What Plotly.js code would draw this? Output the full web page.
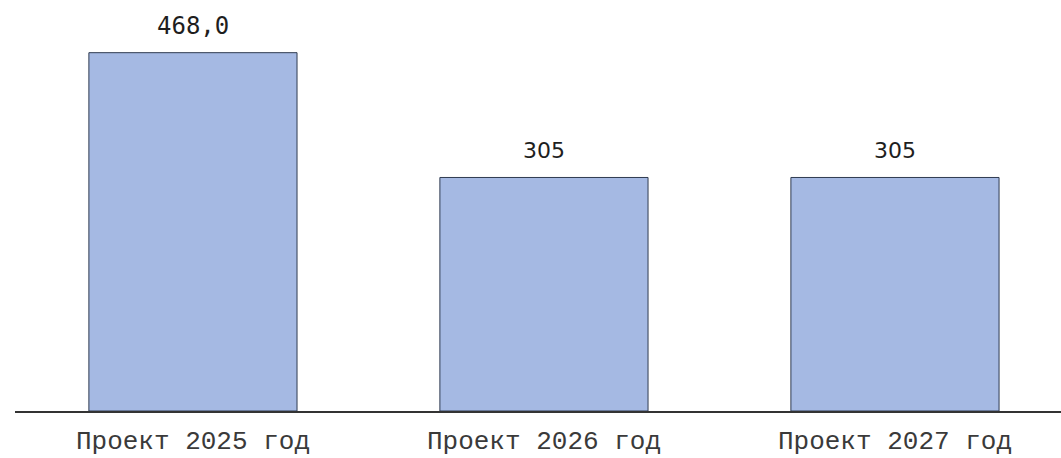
<!DOCTYPE html>
<html>
<head>
<meta charset="utf-8">
<script src="https://cdn.plot.ly/plotly-3.0.1.min.js"></script>
<style>html,body{margin:0;padding:0;background:#fff;}#chart{width:1061px;height:458px;}</style>
</head>
<body>
<div id="chart"></div>
<script>
const categories = ["Проект 2025 год", "Проект 2026 год", "Проект 2027 год"];
const values = [468.0, 305, 305];
const valueLabels = ["468,0", "305", "305"];
const labelFonts = ["DejaVu Sans Mono", "DejaVu Sans", "DejaVu Sans"];
const labelSizes = [24, 22, 22];

const trace = {
  type: "bar",
  x: categories,
  y: values,
  marker: {color: "#a5b9e3", line: {color: "#2f3b50", width: 1}},
  hoverinfo: "skip"
};

const annotations = categories.map((c, i) => ({
  x: c, y: values[i], xref: "x", yref: "y",
  text: valueLabels[i], showarrow: false,
  yanchor: "middle", yshift: 27,
  font: {family: labelFonts[i], size: labelSizes[i], color: "#1e1e1e"}
}));

const layout = {
  width: 1061, height: 458,
  margin: {l: 15, r: 0, t: 0, b: 47},
  paper_bgcolor: "#ffffff", plot_bgcolor: "#ffffff",
  showlegend: false,
  bargap: 0.407,
  xaxis: {
    type: "category",
    range: [-0.507, 2.473],
    showline: true, linecolor: "#333333", linewidth: 2,
    showgrid: false, zeroline: false, ticks: "",
    ticklabelstandoff: 5,
    tickfont: {family: "Liberation Mono, Courier New, monospace", size: 26, color: "#3a3a3a"}
  },
  yaxis: {
    range: [0, 536.8],
    visible: false, showgrid: false, zeroline: false
  },
  annotations: annotations
};

Plotly.newPlot("chart", [trace], layout, {staticPlot: true, displayModeBar: false});
</script>
</body>
</html>
